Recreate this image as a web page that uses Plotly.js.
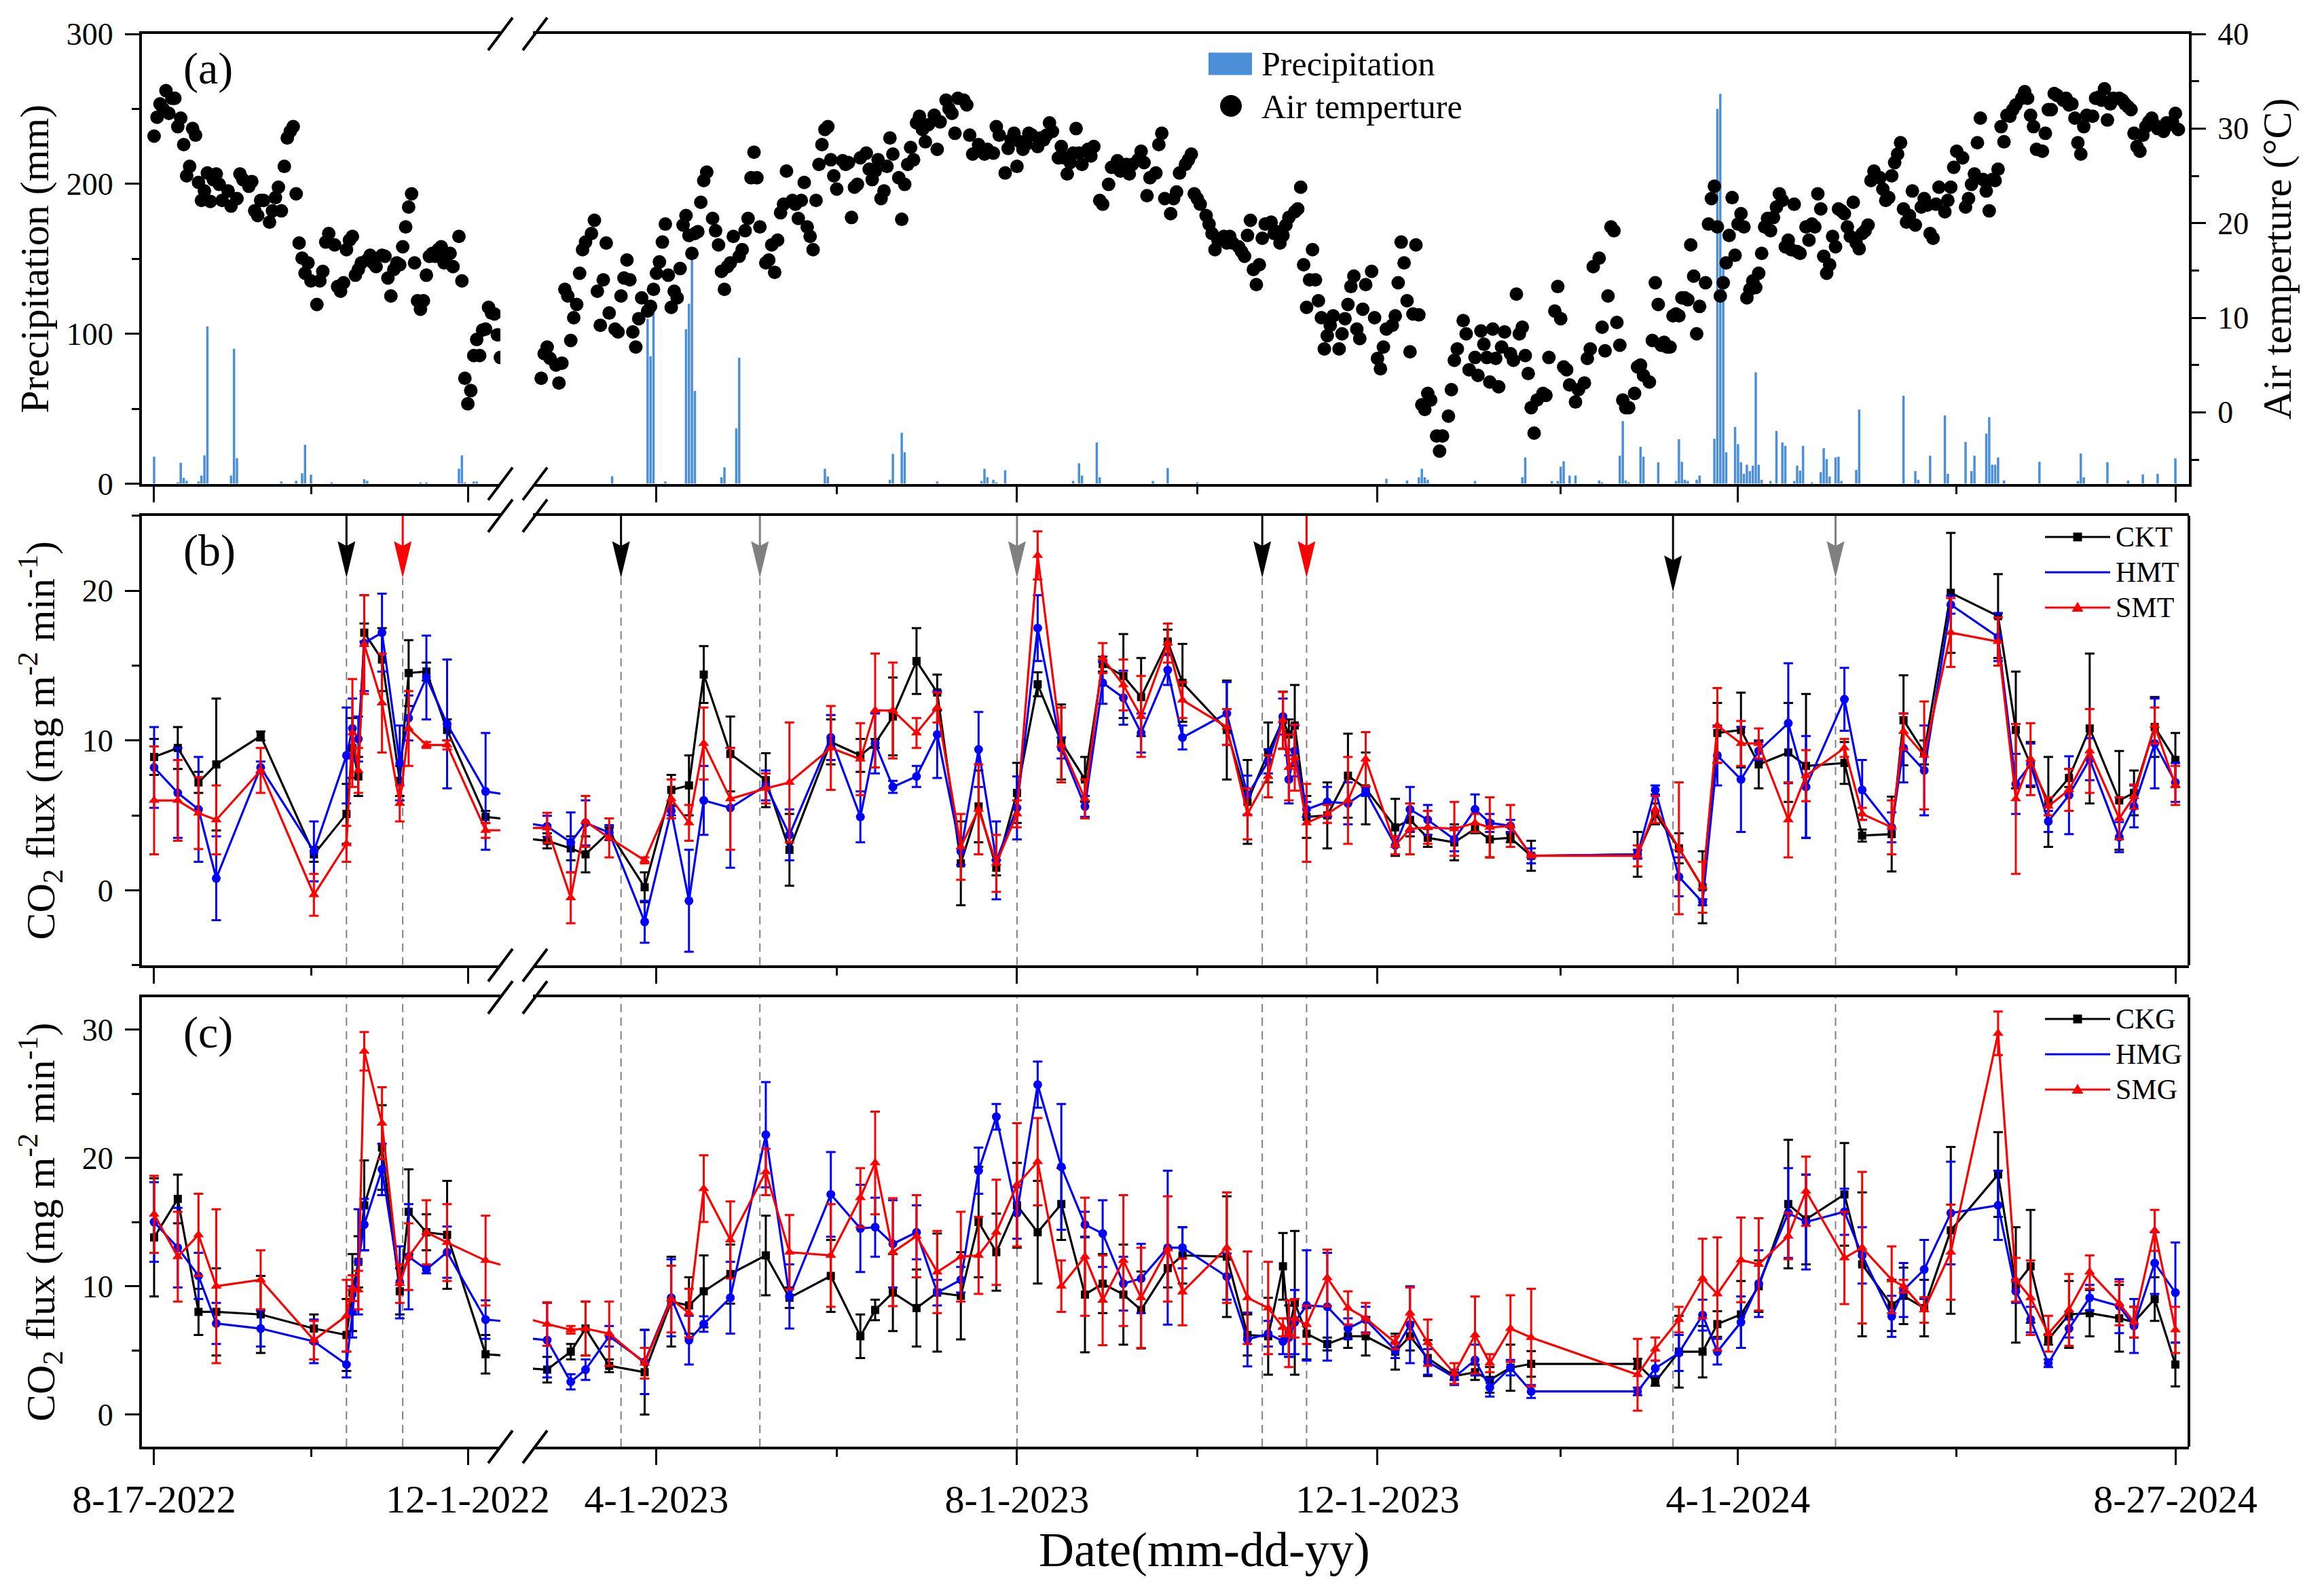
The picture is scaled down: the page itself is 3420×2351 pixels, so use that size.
<!DOCTYPE html>
<html>
<head>
<meta charset="utf-8">
<script src="https://cdn.plot.ly/plotly-3.0.1.min.js"></script>
<style>html,body{margin:0;padding:0;background:#fff}</style>
</head>
<body>
<div id="chart" style="width:3420px;height:2351px"></div>
<script>
// ---- data ----

// daily air temperature (deg C); null = no reading that day
const tempLeftStart = "2022-08-17";
const tempLeft = [
  29.2,31.2,32.6,32.1,34.0,31.6,33.2,33.2,30.2,31.1,
  28.3,25.0,26.0,30.0,29.3,24.3,22.4,23.4,25.3,22.3,
  24.6,25.2,24.1,22.4,null,23.4,21.8,null,22.6,25.2,
  24.6,null,23.9,24.4,21.3,20.8,22.4,22.4,null,20.1,
  21.3,22.7,23.8,21.3,26.0,29.0,29.7,30.2,23.1,17.9,
  16.3,14.7,15.8,13.9,null,11.4,13.9,14.9,18.0,18.9,
  null,17.7,13.3,12.8,13.7,17.2,18.2,18.6,14.5,15.1,
  15.8,null,16.1,16.6,15.8,15.4,null,16.6,16.5,14.2,
  12.3,15.1,15.8,15.6,17.5,19.6,21.7,23.1,15.8,11.8,
  10.9,11.8,14.5,16.5,16.8,16.5,17.2,17.5,15.8,16.6,
  16.8,15.4,null,18.6,13.9,3.6,0.9,2.3,6.0,7.7,
  6.0,8.7,8.8,11.1,10.5,10.4,8.2,5.8
];
const tempRightStart = "2023-02-21";
const tempRight = [
  3.6,6.2,6.9,5.7,null,5.0,3.1,5.2,13.0,12.3,
  7.6,10.0,11.4,14.7,17.2,18.0,null,18.9,20.3,12.8,
  9.2,14.0,17.9,10.5,null,8.8,8.5,12.3,14.2,16.1,
  14.0,8.5,6.9,9.9,12.1,null,10.7,11.2,13.0,14.7,
  15.9,18.0,19.9,14.5,11.1,12.8,12.1,15.2,19.8,20.8,
  18.7,16.8,18.9,19.1,22.2,24.5,25.4,null,20.5,19.2,
  17.7,14.9,13.0,15.4,15.8,18.6,null,16.5,17.2,19.2,
  20.5,24.8,27.5,24.8,19.6,null,15.8,16.1,17.7,14.8,
  18.2,21.1,22.0,25.5,null,22.4,22.0,20.5,22.4,24.3,
  19.6,18.6,17.2,22.4,26.2,28.3,29.9,30.2,26.7,25.0,
  23.6,null,26.6,26.2,26.4,20.6,23.8,24.1,26.9,null,
  27.4,25.7,24.6,25.5,26.7,22.6,23.4,26.0,29.0,27.3,
  null,24.8,20.4,24.1,26.2,28.0,26.7,30.6,31.3,29.9,
  28.6,30.4,null,31.4,27.8,30.7,null,33.0,32.1,31.6,
  29.5,33.2,null,33.0,32.5,29.3,27.3,null,28.3,27.8,
  27.3,27.8,null,27.4,30.2,29.3,null,25.3,27.9,28.8,
  29.5,26.0,28.6,27.8,28.3,29.5,29.3,null,28.1,29.0,
  28.8,29.3,30.6,29.7,null,26.9,28.1,26.9,25.2,26.4,
  27.4,30.0,27.4,26.2,null,27.8,27.1,28.1,null,22.4,
  22.0,null,24.1,25.9,null,26.6,25.5,null,26.2,25.2,
  26.2,null,26.7,27.6,26.4,22.9,24.8,null,25.3,28.3,
  29.5,22.6,null,21.0,22.6,23.3,25.3,null,26.2,26.7,
  27.3,23.1,22.6,22.0,null,20.8,19.9,18.9,17.2,18.2,
  null,18.6,17.9,18.6,17.9,null,17.5,17.0,16.5,18.7,
  20.3,15.1,13.5,15.6,18.4,19.9,null,20.1,18.9,19.1,
  17.9,18.7,19.8,20.6,null,21.2,21.5,23.8,15.6,11.1,
  14.0,17.2,14.0,11.8,10.0,6.7,8.1,9.2,10.2,null,
  6.7,8.3,9.9,11.4,13.3,14.4,8.8,7.8,10.9,13.5,
  null,14.9,10.0,5.7,4.6,6.9,8.8,null,9.2,10.2,
  13.7,18.0,15.8,11.8,6.4,10.4,17.7,10.3,0.8,0.3,
  2.0,1.3,null,-2.5,-4.1,-2.5,null,-0.4,2.4,5.5,
  6.7,null,9.7,8.3,4.5,null,5.8,3.9,8.6,7.2,
  5.8,3.2,8.8,5.7,2.7,6.9,8.5,null,6.2,5.5,
  12.5,8.3,9.0,6.0,4.1,0.5,-2.2,1.3,null,2.0,
  1.8,5.8,null,10.7,13.3,9.9,4.8,4.5,2.9,null,
  1.1,2.4,null,3.1,5.7,6.7,15.4,null,16.3,9.0,
  6.5,12.3,19.6,19.2,9.5,7.1,1.3,0.5,0.5,null,
  2.0,4.8,5.0,3.9,null,3.2,7.6,13.7,11.4,7.1,
  7.4,6.9,6.9,10.2,10.4,10.2,12.1,12.1,11.9,17.7,
  14.4,8.3,11.2,null,13.7,19.9,22.6,23.9,19.6,12.3,
  13.7,15.8,18.7,22.7,16.6,19.9,21.0,19.6,12.1,13.0,
  13.9,13.2,14.7,16.8,19.6,20.5,19.2,20.6,21.7,23.1,
  22.4,17.5,18.2,17.2,22.0,17.0,16.8,null,19.6,18.2,
  19.9,19.6,23.1,21.5,16.5,14.7,15.6,18.6,17.5,21.5,
  21.3,21.0,19.6,18.6,22.2,17.9,17.3,18.9,19.2,19.8,
  24.5,25.5,null,24.8,23.6,22.4,22.7,25.0,26.4,27.3,
  28.5,21.5,20.1,20.8,23.4,19.8,null,21.7,22.6,21.9,
  18.9,18.4,22.0,23.8,null,21.2,22.4,23.8,25.9,27.6,
  null,26.9,21.7,22.6,24.1,25.2,28.5,31.1,24.6,23.4,
  21.3,24.6,24.5,25.7,30.2,28.6,31.4,31.3,32.0,32.5,
  null,33.2,33.9,33.2,31.4,30.2,27.8,null,27.6,29.5,
  32.0,32.0,33.7,33.5,null,33.0,33.2,32.5,32.6,31.1,
  28.5,27.3,30.2,31.4,null,31.3,33.2,33.3,33.0,34.2,
  30.9,32.6,33.2,null,33.2,33.0,32.6,32.3,32.0,29.5,
  28.1,27.6,29.3,30.2,30.7,31.1,30.4,30.0,null,29.7,
  30.6,30.4,30.7,31.6,29.9
];

// daily precipitation (mm), rain days only
const precipDates = [
  "2022-08-17","2022-08-25","2022-08-26","2022-08-27","2022-08-28","2022-09-01","2022-09-02","2022-09-03","2022-09-04",
  "2022-09-12","2022-09-13","2022-09-14","2022-09-29","2022-10-04","2022-10-06","2022-10-07","2022-10-09","2022-10-16",
  "2022-10-27","2022-10-28","2022-11-15","2022-11-17","2022-11-28","2022-11-29","2022-11-30","2022-12-03","2022-12-04",
  "2023-03-17","2023-03-29","2023-03-30","2023-03-31","2023-04-04","2023-04-11","2023-04-12","2023-04-13","2023-04-14",
  "2023-04-23","2023-04-24","2023-04-28","2023-04-29","2023-05-28","2023-05-29","2023-06-19","2023-06-20","2023-06-23",
  "2023-06-24","2023-07-05","2023-07-20","2023-07-21","2023-07-22","2023-07-24","2023-07-25","2023-07-28","2023-08-20",
  "2023-08-22","2023-08-23","2023-08-28","2023-08-29","2023-09-16","2023-09-21","2023-10-01","2023-12-04","2023-12-11",
  "2023-12-15","2023-12-16","2023-12-17","2023-12-18",
  "2024-01-03","2024-01-19","2024-01-20","2024-01-29","2024-01-31","2024-02-01","2024-02-02","2024-02-04","2024-02-06",
  "2024-02-14","2024-02-15","2024-02-21","2024-02-22","2024-02-23","2024-02-24","2024-02-28","2024-02-29","2024-03-05",
  "2024-03-11","2024-03-12","2024-03-13","2024-03-14","2024-03-15","2024-03-18","2024-03-19","2024-03-24","2024-03-25",
  "2024-03-26","2024-03-27","2024-03-28","2024-03-31","2024-04-01","2024-04-02","2024-04-03","2024-04-04","2024-04-05",
  "2024-04-06","2024-04-07","2024-04-08","2024-04-09","2024-04-12","2024-04-14","2024-04-16","2024-04-17","2024-04-20",
  "2024-04-21","2024-04-22","2024-04-23","2024-04-26","2024-04-29","2024-04-30","2024-05-01","2024-05-02","2024-05-04",
  "2024-05-05","2024-05-06","2024-05-11","2024-05-12","2024-05-27","2024-05-31","2024-06-01","2024-06-05","2024-06-10",
  "2024-06-11","2024-06-17","2024-06-19","2024-06-20","2024-06-24","2024-06-25","2024-06-26","2024-06-27","2024-06-28",
  "2024-06-30","2024-07-12","2024-07-25","2024-07-26","2024-07-27","2024-08-04","2024-08-11","2024-08-16","2024-08-21",
  "2024-08-27"
];
const precipMM = [
  18,1,14,4,2,1.5,5.5,19,105,
  5.5,90,17,1.5,2,7,26,6,1,
  3,2,1,1,10,19,1,1.5,1.5,
  5,110,85,118,1.5,103,120,150,62,
  4.4,11,37,84,10,4.8,2.6,20,34,
  21,1.5,1.8,10,4.4,2.6,1,9,2,
  13.6,5.5,27.5,4.4,1.8,10.5,1,3.3,2.2,
  4.4,10,4.4,2.6,
  1.8,4.4,17.6,1.8,1.8,11.4,15,5.5,5.5,
  2.2,1,18.7,41.8,2.2,1,24.6,18,14.3,
  1.8,29.7,14.7,2.6,1.8,2.6,5.5,30,250,
  260,150,21,37.8,26.4,14.3,6.6,12.7,8.4,
  12,74.3,12.7,2.6,1.8,35.2,27.5,25.3,1.8,
  12,8.8,25.3,1,7.7,23.7,16.5,4.8,17.6,
  18,1.8,9.2,49.5,58.7,8.4,2.6,18.7,45.5,
  6.6,27.9,8.4,18.7,33.4,44.4,12.7,12.7,17.6,
  2.2,14.7,1.8,20.2,4.4,14.3,2.2,6.2,6.6,
  16.9
];

// CO2 flux sampling days
const sampleDates = [
  "2022-08-17","2022-08-25","2022-09-01","2022-09-07","2022-09-22","2022-10-10","2022-10-21","2022-10-23",
  "2022-10-25","2022-10-27","2022-11-02","2022-11-08","2022-11-11","2022-11-17","2022-11-24","2022-12-07",
  "2023-02-23","2023-03-03","2023-03-08","2023-03-16","2023-03-28","2023-04-06","2023-04-12","2023-04-17",
  "2023-04-26","2023-05-08","2023-05-16","2023-05-30","2023-06-09","2023-06-14","2023-06-20","2023-06-28",
  "2023-07-05","2023-07-13","2023-07-19","2023-07-25","2023-08-01","2023-08-08","2023-08-16","2023-08-24",
  "2023-08-30","2023-09-06","2023-09-12","2023-09-21","2023-09-26","2023-10-11","2023-10-18","2023-10-25",
  "2023-10-30","2023-11-01","2023-11-03","2023-11-07","2023-11-14","2023-11-21","2023-11-27","2023-12-07",
  "2023-12-12","2023-12-18","2023-12-27","2024-01-03","2024-01-08","2024-01-15","2024-01-22","2024-02-27",
  "2024-03-04","2024-03-12","2024-03-20","2024-03-25","2024-04-02","2024-04-08","2024-04-18","2024-04-24",
  "2024-05-07","2024-05-13","2024-05-23","2024-05-27","2024-06-03","2024-06-12","2024-06-28","2024-07-04",
  "2024-07-09","2024-07-15","2024-07-22","2024-07-29","2024-08-08","2024-08-13","2024-08-20","2024-08-27"
];

// panel (b)
const ckt = [8.9,9.5,7.2,8.4,10.3,2.4,5.1,9.5,7.6,17.2,15.4,7.3,14.5,14.6,10.7,4.9,
  3.3,2.8,2.4,3.9,0.2,6.7,7.0,14.4,9.1,7.35,2.7,9.9, 9.0,9.8,11.6,15.3,13.2,1.8,5.6,1.5,
  6.5,13.75,9.9,7.4,15.1,14.3,12.9,16.6,13.85, 10.7,5.9,9.2,11.35, 10.4,11.0,4.9,5.0,7.65,6.8,
  4.2,4.7,3.5,3.2, 4.1,3.4,3.5,2.3, 2.4, 5.1,2.8,0.2,10.5, 10.7,8.4,9.2,8.3, 8.5,3.65,3.75,11.35,
  9.2,19.85,18.3, 10.7,8.4,5.9,7.5,10.8, 6.0,6.5,10.9,8.7];
const cktErr = [1.2,1.4,0.7,4.4,0.3,0.5,2.0,2.0,1.3,0.6,2.1,1.0,2.2,0.6,0.7,0.4,
  0.5,0.8,1.2,0.3,1.0,1.0,2.0,1.9,2.5,1.8,2.4,1.5, 1.1,0.3,2.6,2.2,1.2,2.8,2.4,0.5,
  2.0,0.8,2.5,1.5,0.5,2.8,2.6,0.8,2.6, 3.3,2.8,2.0,1.9, 1.0,2.7,1.4,2.2,2.8,2.4,
  1.9,1.1,0.6,1.2, 0.3,1.2,0.3,1.0, 1.5, 0.7,1.0,2.4,2.0, 2.5,1.6,3.3,4.8, 1.4,0.4,2.5,3.0,
  0.8,4.0,2.8, 3.9,1.5,3.0,0.6,5.0, 3.3,1.5,2.0,1.8];
const hmt = [8.2,6.5,5.4,0.8,8.2,2.6,9.0,10.8,10.1,16.5,17.2,8.5,11.5,14.2,11.1,6.6,
  4.27,3.2,4.5,3.85,-2.1,5.3,-0.7,6.0,5.5,7.0,3.7,10.2, 4.9,9.8,6.9,7.6,10.4,2.6,9.4,2.0,
  5.5,17.5,9.5,5.6,13.85,12.85,10.5,14.7,10.2, 11.8,6.35,8.6,11.6, 7.4,9.3,5.4,5.9,5.8,6.6,
  3.0,5.4,4.7,3.4, 5.4,4.5,4.3,2.3, 2.4, 6.7,0.9,-0.8,9.0, 7.4,9.3,11.15,6.9, 12.75,6.7,4.2,9.5,
  8.0,19.06,16.9, 7.1,8.4,4.6,6.35,8.75, 3.55,5.6,9.8,7.2];
const hmtErr = [2.7,3.0,3.5,2.8,0.4,2.0,3.2,2.0,1.5,3.2,2.6,2.5,1.5,2.8,4.3,3.9,
  0.7,2.0,1.5,0.5,1.4,0.3,3.4,2.3,4.0,1.0,1.7,1.5, 1.7,2.0,0.4,0.7,2.9,0.9,2.5,2.6,
  2.1,2.2,0.7,0.7,1.4,1.8,1.3,1.0,0.8, 2.1,1.3,0.8,1.2, 1.6,1.7,0.5,1.0,1.4,0.3,
  0.6,1.5,1.0,0.8, 1.0,0.6,0.4,0.5, 0.3, 0.3,1.3,0.2,2.0, 3.5,0.6,4.0,3.4, 2.1,2.0,1.0,2.3,
  3.0,0.6,1.6, 2.0,1.4,0.7,2.6,1.4, 1.0,1.4,3.0,1.3];
const smt = [6.0,6.0,5.15,4.7,8.0,-0.3,3.1,10.5,8.0,16.4,12.5,5.8,10.8,9.7,9.7,4.0,
  4.17,-0.5,4.6,3.5,2.0,6.1,4.5,9.8,6.1,6.8,7.2,9.5, 8.75,12.0,12.0,10.5,12.2,2.9,5.4,1.8,
  5.1,22.35,9.7,6.1,15.5,13.7,11.6,16.5,12.7, 10.9,5.1,7.6,11.35, 8.2,8.85,4.5,5.1,6.0,8.75,
  3.0,4.1,4.2,4.1, 4.5,4.2,4.3,2.3, 2.3, 5.4,2.8,0.2,11.0, 9.8,9.8,4.7,7.65, 9.5,5.1,4.2,10.6,
  9.0,17.2,16.6, 6.1,8.75,5.6,6.7,9.3, 4.8,6.25,11.0,7.0];
const smtErr = [3.6,2.7,2.4,2.3,1.5,1.4,1.2,3.6,1.5,3.3,3.3,1.2,2.5,0.2,0.3,0.5,
  1.0,1.7,1.7,1.3,0.2,1.3,1.2,2.4,3.4,1.0,4.0,2.8, 2.4,3.8,3.2,1.0,1.0,2.2,3.0,1.9,
  0.9,1.6,2.5,1.3,1.0,1.7,2.7,1.3,1.2, 1.2,1.7,1.4,1.9, 2.2,2.2,2.6,0.6,2.9,1.8,
  0.6,1.7,1.1,1.8, 0.6,2.0,1.4,0.1, 0.7, 0.9,4.4,1.7,2.5, 1.5,1.0,2.5,1.7, 0.6,0.4,1.8,1.2,
  3.6,2.3,1.6, 5.0,2.4,0.6,1.4,2.8, 1.4,0.8,1.2,1.3];

// panel (c)
const ckg = [13.8,16.8,8.0,8.0,7.8,6.7,6.2,9.5,11.9,16.3,20.8,9.6,15.8,14.2,14.0,4.7,
  3.5,4.9,6.7,3.8,3.3,8.8,8.5,9.6,10.95,12.4,9.1,10.8, 6.1,8.15,9.5,8.3,9.5,9.25,15.0,12.65,
  16.3,14.2,16.4,9.35,10.2,9.35,8.15,11.4,12.4, 12.3,6.2,6.1,11.55, 6.5,8.7,6.3,5.5,6.1,6.1,
  4.9,6.1,4.4,3.0, 3.3,2.7,3.65,3.95, 3.95, 2.55,4.9,4.9,7.05, 7.8,10.0,16.4,15.2, 17.15,11.7,8.5,9.25,
  8.3,14.35,18.7, 10.1,11.55,5.85,7.8,7.9, 7.5,7.2,9.0,3.9];
const ckgErr = [4.6,1.9,1.8,3.4,3.0,1.1,2.8,3.0,2.0,3.5,3.3,1.8,3.3,1.4,4.2,1.5,
  1.0,0.6,2.1,0.5,3.3,3.5,2.2,2.8,2.3,3.1,0.8,2.8, 1.7,0.8,3.0,3.0,4.6,3.4,4.3,3.0,
  3.3,4.0,2.8,4.5,2.3,3.9,3.0,1.5,2.2, 4.7,1.6,3.0,2.6, 2.0,5.6,2.0,0.5,0.9,1.5,
  1.4,1.1,1.4,0.3, 0.6,1.0,1.8,1.0, 0.4, 0.3,2.8,2.0,1.0, 2.6,2.0,5.0,3.5, 4.0,5.6,2.0,2.2,
  2.2,6.5,3.3, 4.5,4.4,0.4,2.6,1.8, 2.6,1.2,1.7,1.7];
const hmg = [15.0,13.0,10.8,7.1,6.7,5.7,3.9,8.0,11.9,14.8,19.1,10.3,12.3,11.3,12.65,7.4,
  5.8,2.55,3.5,6.1,4.1,9.1,5.8,7.05,9.1,21.8,9.2,17.15, 14.5,14.6,13.3,14.2,9.5,10.5,19.0,23.2,
  15.7,25.7,19.3,14.8,14.1,10.2,10.6,13.0,13.0, 10.75,5.85,6.3,5.7, 6.0,7.2,8.5,8.4,6.7,7.4,
  5.0,7.0,4.1,2.9, 4.25,2.1,3.65,1.8, 1.8, 3.6,4.8,7.75,4.9, 7.2,10.2,15.7,15.0, 15.8,12.4,7.65,9.7,
  11.3,15.7,16.3, 9.6,7.4,4.0,6.7,9.1, 8.45,6.9,11.8,9.5];
const hmgErr = [3.1,3.1,1.8,1.6,1.4,1.7,1.0,2.0,4.1,2.0,2.0,2.8,4.1,0.3,2.0,1.5,
  2.9,0.6,0.8,0.8,2.5,3.0,1.9,0.6,2.8,4.1,2.5,3.3, 3.4,2.3,3.4,2.1,1.0,1.0,1.8,1.0,
  2.0,1.8,4.9,1.0,2.6,2.1,2.7,6.0,1.6, 1.8,2.1,1.0,1.0, 1.5,2.5,4.3,4.2,0.8,1.0,
  0.6,3.0,1.0,0.6, 1.2,0.7,0.6,0.5, 0.3, 0.6,1.4,1.2,1.0, 2.0,2.6,3.5,3.7, 1.8,2.2,1.6,2.1,
  2.3,4.0,2.7, 0.9,1.0,0.3,0.7,1.0, 2.1,2.1,2.4,3.9];
const smg = [15.6,12.3,14.0,10.0,10.5,5.8,7.7,9.85,9.7,28.3,22.7,10.2,12.3,14.2,13.4,12.0,
  7.05,6.6,6.7,6.3,4.0,9.0,7.9,17.6,13.6,18.9,12.65,12.4, 16.9,19.6,12.65,13.9,11.1,12.3,12.4,14.2,
  17.9,19.7,10.0,12.3,8.9,12.0,9.1,12.9,9.55, 13.0,9.1,8.3,6.8, 6.3,7.5,7.0,10.65,8.3,7.5,
  5.6,7.9,5.6,3.2, 6.2,4.0,6.7,6.0, 3.1, 5.1,7.4,10.6,9.4, 12.05,11.7,13.9,17.4, 12.2,13.0,10.5,10.0,
  8.15,12.65,29.7, 10.5,9.1,6.3,8.15,11.1, 8.65,7.2,14.35,6.6];
const smgErr = [3.0,3.5,3.2,6.0,2.3,1.5,2.8,1.0,1.5,1.5,2.8,1.5,2.6,2.5,3.0,3.5,
  1.7,0.3,2.1,2.5,1.2,2.6,1.9,2.6,3.0,1.8,2.9,4.0, 2.3,4.0,4.2,3.2,3.2,3.5,3.0,4.1,
  4.8,3.4,2.0,4.6,3.5,5.1,3.9,4.1,2.6, 4.3,3.6,3.6,0.7, 2.6,1.5,1.5,2.2,1.3,1.2,
  0.5,2.0,1.8,0.8, 3.0,0.7,2.6,3.8, 2.8, 0.9,1.0,3.1,4.4, 3.3,3.6,1.8,2.7, 3.6,5.9,2.6,0.5,
  1.0,3.7,1.7, 1.7,2.9,1.4,2.8,1.3, 1.7,1.2,1.6,1.8];

// management events (arrows in panel b)
const eventDates = ["2022-10-21","2022-11-09","2023-03-20","2023-05-06","2023-08-01","2023-10-23","2023-11-07","2024-03-10","2024-05-04"];
const eventColors = ["#000000","#ff0000","#000000","#808080","#808080","#000000","#ff0000","#000000","#808080"];
const eventTip = [20.85,20.85,20.85,20.85,20.85,20.85,20.85,19.9,20.85];

// axis ticks
const leftMajor = ["2022-08-17","2022-12-01"];
const leftMajorText = ["8-17-2022","12-1-2022"];
const leftMinor = ["2022-10-09"];
const rightMajor = ["2023-04-01","2023-08-01","2023-12-01","2024-04-01","2024-08-27"];
const rightMajorText = ["4-1-2023","8-1-2023","12-1-2023","4-1-2024","8-27-2024"];
const rightMinor = ["2023-06-01","2023-10-01","2024-02-01","2024-06-14"];

// ---- layout geometry ----
const W = 3420, H = 2351;
const M = {l: 209, r: 196, t: 50, b: 220};
const PW = W - M.l - M.r, PH = H - M.t - M.b;
const px = x => (x - M.l) / PW;
const py = y => (H - M.b - y) / PH;

const leftRange = ["2022-08-12 21:00", "2022-12-12 00:00"];
const rightRange = ["2023-02-18 05:00", "2024-08-31 14:00"];
const leftDom = [0, px(737)];
const rightDom = [px(785), 1];
const domA = [py(712.6), 1];
const domB = [py(1421.8), py(759.7)];
const domC = [0, py(1469.2)];

const FONT = "Liberation Serif, Times New Roman, serif";

function dailyDates(start, n) {
  const t0 = Date.parse(start + "T00:00:00Z");
  const out = [];
  for (let i = 0; i < n; i++) out.push(new Date(t0 + i * 864e5).toISOString().slice(0, 10));
  return out;
}

const tempX = dailyDates(tempLeftStart, tempLeft.length).concat(dailyDates(tempRightStart, tempRight.length));
const tempY = tempLeft.concat(tempRight);

const traces = [];
["x", "x2"].forEach(xa => {
  traces.push({
    type: "bar", x: precipDates, y: precipMM, xaxis: xa, yaxis: "y",
    width: 0.8 * 864e5, marker: {color: "#4a8fd8", line: {width: 0}},
    showlegend: false, hoverinfo: "skip"
  });
});
["x", "x2"].forEach(xa => {
  traces.push({
    type: "scatter", mode: "markers", x: tempX, y: tempY, xaxis: xa, yaxis: "y2",
    marker: {color: "#000", size: 20}, showlegend: false, hoverinfo: "skip"
  });
});

const fluxSets = [
  {panel: "b", name: "CKT", y: ckt, e: cktErr, color: "#000000", symbol: "square", size: 12},
  {panel: "b", name: "HMT", y: hmt, e: hmtErr, color: "#0000ff", symbol: "circle", size: 13},
  {panel: "b", name: "SMT", y: smt, e: smtErr, color: "#ff0000", symbol: "triangle-up", size: 14},
  {panel: "c", name: "CKG", y: ckg, e: ckgErr, color: "#000000", symbol: "square", size: 12},
  {panel: "c", name: "HMG", y: hmg, e: hmgErr, color: "#0000ff", symbol: "circle", size: 13},
  {panel: "c", name: "SMG", y: smg, e: smgErr, color: "#ff0000", symbol: "triangle-up", size: 14}
];
fluxSets.forEach(s => {
  const axes = s.panel === "b" ? [["x3", "y3"], ["x4", "y3"]] : [["x5", "y4"], ["x6", "y4"]];
  axes.forEach(ax => {
    traces.push({
      type: "scatter", mode: "lines+markers", name: s.name,
      x: sampleDates, y: s.y, xaxis: ax[0], yaxis: ax[1],
      line: {color: s.color, width: 3.2},
      marker: {color: s.color, symbol: s.symbol, size: s.size},
      error_y: {type: "data", array: s.e, visible: true, color: s.color, thickness: 3, width: 7},
      showlegend: false, hoverinfo: "skip"
    });
  });
});

function xAxis(dom, range, anchor, major, majorText, minor, labels) {
  return {
    type: "date", domain: dom, range: range, anchor: anchor,
    showline: true, linecolor: "#000", linewidth: 4, mirror: true,
    ticks: "outside", ticklen: 23, tickwidth: 3, tickcolor: "#000",
    tickmode: "array", tickvals: major, ticktext: majorText,
    showticklabels: labels, tickfont: {size: 58, color: "#000", family: FONT},
    minor: {tickmode: "array", tickvals: minor, ticks: "outside", ticklen: 11, tickwidth: 3, tickcolor: "#000", showgrid: false},
    showgrid: false, zeroline: false, fixedrange: true
  };
}
function yAxis(dom, range, dtick, anchor, title, standoff) {
  return {
    domain: dom, range: range, anchor: anchor, side: "left",
    showline: true, linecolor: "#000", linewidth: 4,
    ticks: "outside", ticklen: 21, tickwidth: 3, tickcolor: "#000",
    tickmode: "linear", tick0: 0, dtick: dtick, ticklabelstandoff: 8,
    tickfont: {size: 46, color: "#000", family: FONT},
    minor: {tick0: 0, dtick: dtick / 2, ticks: "outside", ticklen: 11, tickwidth: 3, tickcolor: "#000", showgrid: false},
    showgrid: false, zeroline: false, fixedrange: true,
    title: {text: title, font: {size: 60, color: "#000", family: FONT}, standoff: standoff}
  };
}

const fluxTitle = "CO<sub>2</sub> flux (mg m<sup>-2</sup> min<sup>-1</sup>)";

const layout = {
  width: W, height: H, margin: M, showlegend: false,
  paper_bgcolor: "#fff", plot_bgcolor: "rgba(0,0,0,0)",
  font: {family: FONT, color: "#000"},
  barmode: "overlay",
  xaxis: xAxis(leftDom, leftRange, "y", leftMajor, leftMajorText, leftMinor, false),
  xaxis2: xAxis(rightDom, rightRange, "y", rightMajor, rightMajorText, rightMinor, false),
  xaxis3: xAxis(leftDom, leftRange, "y3", leftMajor, leftMajorText, leftMinor, false),
  xaxis4: xAxis(rightDom, rightRange, "y3", rightMajor, rightMajorText, rightMinor, false),
  xaxis5: xAxis(leftDom, leftRange, "y4", leftMajor, leftMajorText, leftMinor, true),
  xaxis6: xAxis(rightDom, rightRange, "y4", rightMajor, rightMajorText, rightMinor, true),
  yaxis: yAxis(domA, [0, 300], 100, "x", "Precipitation (mm)", 8),
  yaxis2: Object.assign(yAxis(domA, [-7.55, 40], 10, "x2", "Air temperture (\u00b0C)", 22), {side: "right", overlaying: "y"}),
  yaxis3: yAxis(domB, [-5, 25], 10, "x3", fluxTitle, 22),
  yaxis4: yAxis(domC, [-2.5, 32.5], 10, "x5", fluxTitle, 22),
  shapes: [],
  annotations: []
};

// right-hand frame of panels b and c
[domB, domC].forEach(d => {
  layout.shapes.push({type: "line", xref: "paper", yref: "paper", x0: 1, x1: 1, y0: d[0], y1: d[1], line: {color: "#000", width: 4}});
});

// axis-break marks
[50, 712.6, 759.7, 1421.8, 1469.2, 2131.3].forEach(yl => {
  [737, 788].forEach(cx => {
    layout.shapes.push({type: "line", xref: "paper", yref: "paper",
      x0: px(cx - 18), y0: py(yl + 24), x1: px(cx + 18), y1: py(yl - 24),
      line: {color: "#000", width: 4}});
  });
});

// management events: dashed guides and arrows
eventDates.forEach((d, i) => {
  const left = d < "2023-01-01";
  const xb = left ? "x3" : "x4", xc = left ? "x5" : "x6";
  const c = eventColors[i], tip = eventTip[i];
  layout.shapes.push({type: "line", layer: "below", xref: xb, yref: "y3", x0: d, x1: d, y0: -5, y1: tip,
    line: {color: "#808080", width: 2, dash: "12px,8px"}});
  layout.shapes.push({type: "line", layer: "below", xref: xc, yref: "y4", x0: d, x1: d, y0: -2.5, y1: 32.5,
    line: {color: "#808080", width: 2, dash: "12px,8px"}});
  layout.shapes.push({type: "line", xref: xb, yref: "y3", x0: d, x1: d, y0: tip + 2.0, y1: 25,
    line: {color: c, width: 3}});
  layout.shapes.push({type: "path", xref: xb, yref: "y3", xsizemode: "pixel", ysizemode: "pixel",
    xanchor: d, yanchor: tip, path: "M-13,54 L0,47 L13,54 L0,0 Z",
    fillcolor: c, line: {width: 0}});
});

// panel (a) legend drawn by hand
layout.shapes.push({type: "rect", xref: "paper", yref: "paper", x0: px(1780), x1: px(1844), y0: py(110.5), y1: py(77.6),
  fillcolor: "#4a8fd8", line: {width: 0}});
layout.shapes.push({type: "circle", xref: "paper", yref: "paper", x0: px(1797), x1: px(1829), y0: py(172), y1: py(140),
  fillcolor: "#000", line: {width: 0}});
layout.annotations.push({text: "Precipitation", xref: "paper", yref: "paper", x: px(1856), y: py(94),
  xanchor: "left", yanchor: "middle", showarrow: false, font: {size: 50}});
layout.annotations.push({text: "Air temperture", xref: "paper", yref: "paper", x: px(1856), y: py(157),
  xanchor: "left", yanchor: "middle", showarrow: false, font: {size: 50}});

// panel (b) and (c) legends drawn by hand
const markerPath = {
  "square": "M-6.5,-6.5 H6.5 V6.5 H-6.5 Z",
  "circle": "M7,0 A7,7 0 1,1 -7,0 A7,7 0 1,1 7,0 Z",
  "triangle-up": "M-8.5,-6 L8.5,-6 L0,8.5 Z"
};
fluxSets.forEach((s, i) => {
  const row = i % 3;
  const yc = (s.panel === "b" ? 791 : 1501) + row * 52;
  layout.shapes.push({type: "line", xref: "paper", yref: "paper", x0: px(3012), x1: px(3108), y0: py(yc), y1: py(yc),
    line: {color: s.color, width: 3}});
  layout.shapes.push({type: "path", xref: "paper", yref: "paper", xsizemode: "pixel", ysizemode: "pixel",
    xanchor: px(3060), yanchor: py(yc), path: markerPath[s.symbol], fillcolor: s.color, line: {width: 0}});
  layout.annotations.push({text: s.name, xref: "paper", yref: "paper", x: px(3114), y: py(yc),
    xanchor: "left", yanchor: "middle", showarrow: false, font: {size: 42}});
});

// panel labels
[["(a)", 62], ["(b)", 772], ["(c)", 1482]].forEach(p => {
  layout.annotations.push({text: p[0], xref: "paper", yref: "paper", x: px(268), y: py(p[1]),
    xanchor: "left", yanchor: "top", showarrow: false, font: {size: 66}});
});

// x-axis title
layout.annotations.push({text: "Date(mm-dd-yy)", xref: "paper", yref: "paper", x: px(1774), y: py(2283),
  xanchor: "center", yanchor: "middle", showarrow: false, font: {size: 72}});

Plotly.newPlot("chart", traces, layout, {staticPlot: true, displayModeBar: false});
</script>
</body>
</html>
